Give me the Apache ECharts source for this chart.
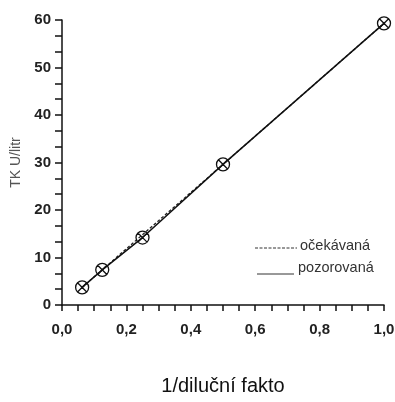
<!DOCTYPE html>
<html><head><meta charset="utf-8">
<script src="https://cdn.jsdelivr.net/npm/echarts@6/dist/echarts.min.js"></script>
<style>html,body{margin:0;padding:0;background:#fff}#c{width:395px;height:402px}</style>
</head><body><div id="c"></div>
<script>
const xValues = [0.0625, 0.125, 0.25, 0.5, 1.0];
const expected = [3.7, 7.4, 14.8, 29.6, 59.3];
const observed = [3.7, 7.4, 14.2, 29.6, 59.3];
const legendNames = ['očekávaná', 'pozorovaná'];
const xTitle = '1/diluční fakto';
const yTitle = 'TK U/litr';

const marker = 'path://M0,-10 A10,10 0 1,1 0,10 A10,10 0 1,1 0,-10 Z M-7.07,-7.07 L7.07,7.07 M7.07,-7.07 L-7.07,7.07';
const chart = echarts.init(document.getElementById('c'));
const lbl = {fontFamily: 'Liberation Sans', fontSize: 15, fontWeight: 'bold', color: '#222'};
chart.setOption({
  animation: false,
  grid: {left: 62, right: 11, top: 20, bottom: 97, containLabel: false, outerBoundsMode: 'none'},
  xAxis: {
    type: 'value', min: 0, max: 1, interval: 0.2,
    name: xTitle, nameLocation: 'middle', nameGap: 71,
    nameTextStyle: {fontFamily: 'Liberation Sans', fontSize: 20, color: '#111'},
    axisLine: {show: true, onZero: false, lineStyle: {color: '#111', width: 1.5}},
    axisTick: {show: true, length: 6, lineStyle: {color: '#111', width: 1.5}},
    minorTick: {show: true, splitNumber: 4, length: 6, lineStyle: {color: '#111', width: 1.5}},
    splitLine: {show: false},
    axisLabel: Object.assign({margin: 17, formatter: v => v.toFixed(1).replace('.', ',')}, lbl)
  },
  yAxis: {
    type: 'value', min: 0, max: 60, interval: 10,
    name: yTitle, nameLocation: 'middle', nameGap: 37, nameRotate: 90,
    nameTextStyle: {fontFamily: 'Liberation Sans', fontSize: 14, color: '#555'},
    axisLine: {show: true, lineStyle: {color: '#111', width: 1.5}},
    axisTick: {show: true, length: 7, lineStyle: {color: '#111', width: 1.5}},
    minorTick: {show: true, splitNumber: 3, length: 7, lineStyle: {color: '#111', width: 1.5}},
    splitLine: {show: false},
    axisLabel: Object.assign({margin: 11}, lbl)
  },
  series: [
    {
      name: legendNames[0], type: 'line',
      data: xValues.map((x, i) => [x, expected[i]]),
      showSymbol: false, symbol: 'none',
      lineStyle: {color: '#222', width: 1.3, type: [3, 2]}
    },
    {
      name: legendNames[1], type: 'line',
      data: xValues.map((x, i) => [x, observed[i]]),
      symbol: marker, symbolSize: 13,
      itemStyle: {color: 'rgba(0,0,0,0)', borderColor: '#111', borderWidth: 1.3},
      lineStyle: {color: '#111', width: 1.5}
    }
  ],
  graphic: [
    {type: 'line', shape: {x1: 255, y1: 248, x2: 297, y2: 248}, style: {stroke: '#333', lineWidth: 1, lineDash: [3, 1.5]}},
    {type: 'text', x: 300, y: 246, style: {text: legendNames[0], fontFamily: 'Liberation Sans', fontSize: 14.5, fill: '#333', verticalAlign: 'middle'}},
    {type: 'line', shape: {x1: 257, y1: 274, x2: 294, y2: 274}, style: {stroke: '#333', lineWidth: 1}},
    {type: 'text', x: 298, y: 268, style: {text: legendNames[1], fontFamily: 'Liberation Sans', fontSize: 14.5, fill: '#333', verticalAlign: 'middle'}}
  ]
});
</script></body></html>
